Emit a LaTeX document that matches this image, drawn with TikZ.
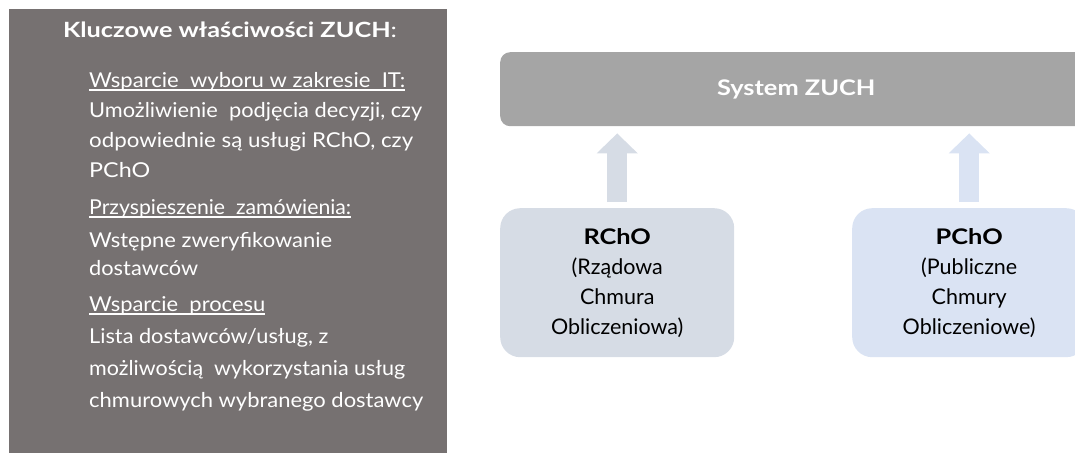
\documentclass[tikz,border=0pt]{standalone}
\usepackage{graphicx}
\usepackage{fontspec}
\setmainfont{Lato}
\newfontfamily\widebold{Lato}[FakeStretch=1.18]
\usetikzlibrary{arrows.meta}
\definecolor{panelgray}{HTML}{767171}
\definecolor{sysgray}{HTML}{A5A5A5}
\definecolor{rchofill}{HTML}{D6DCE5}
\definecolor{pchofill}{HTML}{DAE3F3}
\newcommand\fitw[2]{\resizebox{#1}{\height}{#2}}
\begin{document}
\begin{tikzpicture}[x=1pt,y=-1pt,
  ptxt/.style={anchor=base west, inner sep=0pt, text=white, font=\fontsize{20.5}{24}\selectfont},
  ulin/.style={draw=white, line width=1.3pt},
  cloudbox/.style={anchor=north west, rounded corners=20pt, minimum width=234pt, minimum height=149pt,
    inner sep=0pt, align=center, font=\fontsize{21.5}{30}\selectfont, text=black},
  bigarrow/.style={line width=20pt, -{Triangle[width=40pt,length=20pt]}, shorten <=6pt, shorten >=7pt}
]
\clip (0,0) rectangle (1075,452);
% left panel
\node[fill=panelgray, anchor=north west, minimum width=438pt, minimum height=460pt, inner sep=0pt] (panel) at (9,9) {};
\node[anchor=base, inner sep=0pt, text=white, font=\fontsize{21}{24}\selectfont] (title) at (230,38) {\fitw{334pt}{{\bfseries Kluczowe właściwości ZUCH}:}};
\node[ptxt] (h1) at (89,87) {\fitw{316pt}{Wsparcie\ \ wyboru w zakresie\ \ IT:}};
\draw[ulin] ([yshift=-3pt]h1.base west) -- ([yshift=-3pt]h1.base east);
\node[ptxt] (l1) at (89,117) {\fitw{333pt}{Umożliwienie\ \ podjęcia decyzji, czy}};
\node[ptxt] (l2) at (89,147) {\fitw{324pt}{odpowiednie są usługi RChO, czy}};
\node[ptxt] (l3) at (89,177) {\fitw{61pt}{PChO}};
\node[ptxt] (h2) at (89,214) {\fitw{262pt}{Przyspieszenie\ \ zamówienia:}};
\draw[ulin] ([yshift=-3pt]h2.base west) -- ([yshift=-3pt]h2.base east);
\node[ptxt] (l4) at (89,247) {\fitw{243pt}{Wstępne zweryfikowanie}};
\node[ptxt] (l5) at (89,275) {\fitw{109pt}{dostawców}};
\node[ptxt] (h3) at (89,311) {\fitw{176pt}{Wsparcie\ \ procesu}};
\draw[ulin] ([yshift=-3pt]h3.base west) -- ([yshift=-3pt]h3.base east);
\node[ptxt] (l6) at (89,343) {\fitw{239pt}{Lista dostawców/usług, z}};
\node[ptxt] (l7) at (89,375) {\fitw{316pt}{możliwością\ \ wykorzystania usług}};
\node[ptxt] (l8) at (89,407) {\fitw{334pt}{chmurowych wybranego dostawcy}};
% right side
\node[fill=sysgray, anchor=north west, rounded corners=10pt, minimum width=592pt, minimum height=74pt,
  inner sep=0pt, text=white, font=\fontsize{21.5}{24}\selectfont\widebold\bfseries] (sys) at (500,52) {System ZUCH};
\node[cloudbox, fill=rchofill] (rcho) at (500,208) {{\widebold\bfseries RChO}\\(Rządowa\\Chmura\\Obliczeniowa)};
\node[cloudbox, fill=pchofill] (pcho) at (852,208) {{\widebold\bfseries PChO}\\(Publiczne\\Chmury\\Obliczeniowe)};
\draw[bigarrow, rchofill] (rcho.north) -- (rcho.north |- sys.south);
\draw[bigarrow, pchofill] (pcho.north) -- (pcho.north |- sys.south);
\end{tikzpicture}
\end{document}
